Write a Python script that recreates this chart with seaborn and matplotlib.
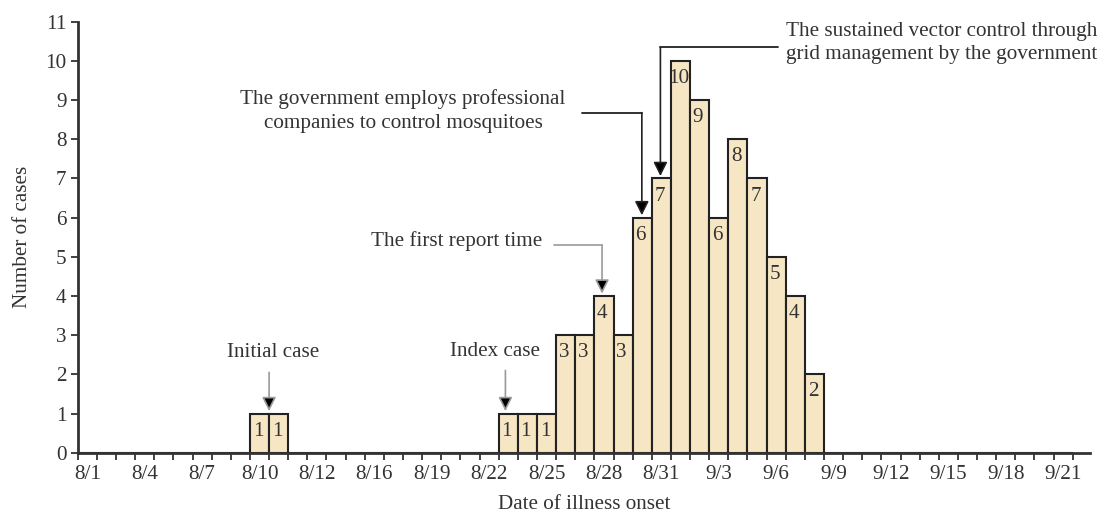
import matplotlib
matplotlib.use("Agg")
import matplotlib.pyplot as plt
import seaborn as sns
import pandas as pd

# ---- data ----
dates = [f"8/{d}" for d in range(1, 32)] + [f"9/{d}" for d in range(1, 22)]
cases = [0, 0, 0, 0, 0, 0, 0, 0, 0, 1,
         1, 0, 0, 0, 0, 0, 0, 0, 0, 0,
         0, 0, 1, 1, 1, 3, 3, 4, 3, 6,
         7, 10, 9, 6, 8, 7, 5, 4, 2, 0,
         0, 0, 0, 0, 0, 0, 0, 0, 0, 0,
         0, 0]
tick_labels = ["8/1", "8/4", "8/7", "8/10", "8/12", "8/16", "8/19", "8/22", "8/25",
               "8/28", "8/31", "9/3", "9/6", "9/9", "9/12", "9/15", "9/18", "9/21"]
y_ticks = list(range(0, 12))

df = pd.DataFrame({"date": dates, "cases": cases})

sns.set_style("ticks")
plt.rcParams["font.family"] = ["Liberation Serif", "DejaVu Serif"]
TXT = "#333333"
FS = 15.2

fig = plt.figure(figsize=(11.01, 5.17), dpi=100)
ax = fig.add_axes([0.0706, 0.1244, 0.990 - 0.0706, 0.958 - 0.1244])

sns.barplot(data=df, x="date", y="cases", order=dates, width=1.0,
            color="#F6E6C4", saturation=1, edgecolor="#222222", linewidth=1.5, ax=ax)

# bar value labels
for i, v in enumerate(cases):
    if v > 0:
        ax.text(i - 0.08, v - 0.45, str(v), ha="center", va="center",
                fontsize=FS, color=TXT)

ax.set_xlim(-0.5, 52.4)
ax.set_ylim(0, 11)
ax.set_yticks(y_ticks)
ax.set_yticklabels([str(t) for t in y_ticks], fontsize=FS, color=TXT)

label_pos = list(range(0, len(dates), 3))
ax.set_xticks(label_pos)
ax.set_xticklabels(tick_labels, fontsize=FS, color=TXT)
ax.set_xticks([i - 0.5 for i in range(0, len(dates) + 1)], minor=True)
ax.tick_params(axis="x", which="major", length=0, pad=9)
ax.tick_params(axis="x", which="minor", length=5, width=1.3, color="#333333", direction="out")
ax.tick_params(axis="y", length=5, width=1.3, color="#333333", pad=3)

for s in ["top", "right"]:
    ax.spines[s].set_visible(False)
for s in ["left", "bottom"]:
    ax.spines[s].set_linewidth(2)
    ax.spines[s].set_color("#333333")

ax.set_xlabel("Date of illness onset", fontsize=FS, color=TXT, labelpad=8)
ax.set_ylabel("Number of cases", fontsize=FS, color=TXT, labelpad=10)

head = dict(arrowstyle="-|>,head_width=0.3,head_length=0.6", mutation_scale=14,
            shrinkA=0, shrinkB=0, lw=1.2)

# Initial case
ax.text(9.7, 2.55, "Initial case", ha="center", va="center", fontsize=FS, color=TXT)
ax.annotate("", xy=(9.5, 1.06), xytext=(9.5, 2.05),
            arrowprops=dict(**head, ec="#999999", fc="black"))

# Index case
ax.text(21.3, 2.57, "Index case", ha="center", va="center", fontsize=FS, color=TXT)
ax.annotate("", xy=(21.85, 1.06), xytext=(21.85, 2.1),
            arrowprops=dict(**head, ec="#999999", fc="black"))

# First report time
ax.text(23.8, 5.40, "The first report time", ha="right", va="center", fontsize=FS, color=TXT)
ax.plot([24.4, 26.9], [5.30, 5.30], color="#999999", lw=1.2)
ax.annotate("", xy=(26.9, 4.06), xytext=(26.9, 5.30),
            arrowprops=dict(**head, ec="#999999", fc="black"))

# Government employs professional companies
ax.text(16.5, 8.73, "The government employs professional\ncompanies to control mosquitoes",
        ha="center", va="center", fontsize=FS, color=TXT, linespacing=1.35)
ax.plot([25.85, 28.98], [8.68, 8.68], color="#222222", lw=1.3)
ax.annotate("", xy=(28.98, 6.06), xytext=(28.98, 8.68),
            arrowprops=dict(**head, ec="#222222", fc="black"))

# Sustained vector control
ax.text(36.5, 10.45, "The sustained vector control through\ngrid management by the government",
        ha="left", va="center", fontsize=FS, color=TXT, linespacing=1.3)
ax.plot([36.1, 29.95], [10.35, 10.35], color="#222222", lw=1.3)
ax.annotate("", xy=(29.95, 7.06), xytext=(29.95, 10.35),
            arrowprops=dict(**head, ec="#222222", fc="black"))

fig.savefig("out.png", dpi=100)
